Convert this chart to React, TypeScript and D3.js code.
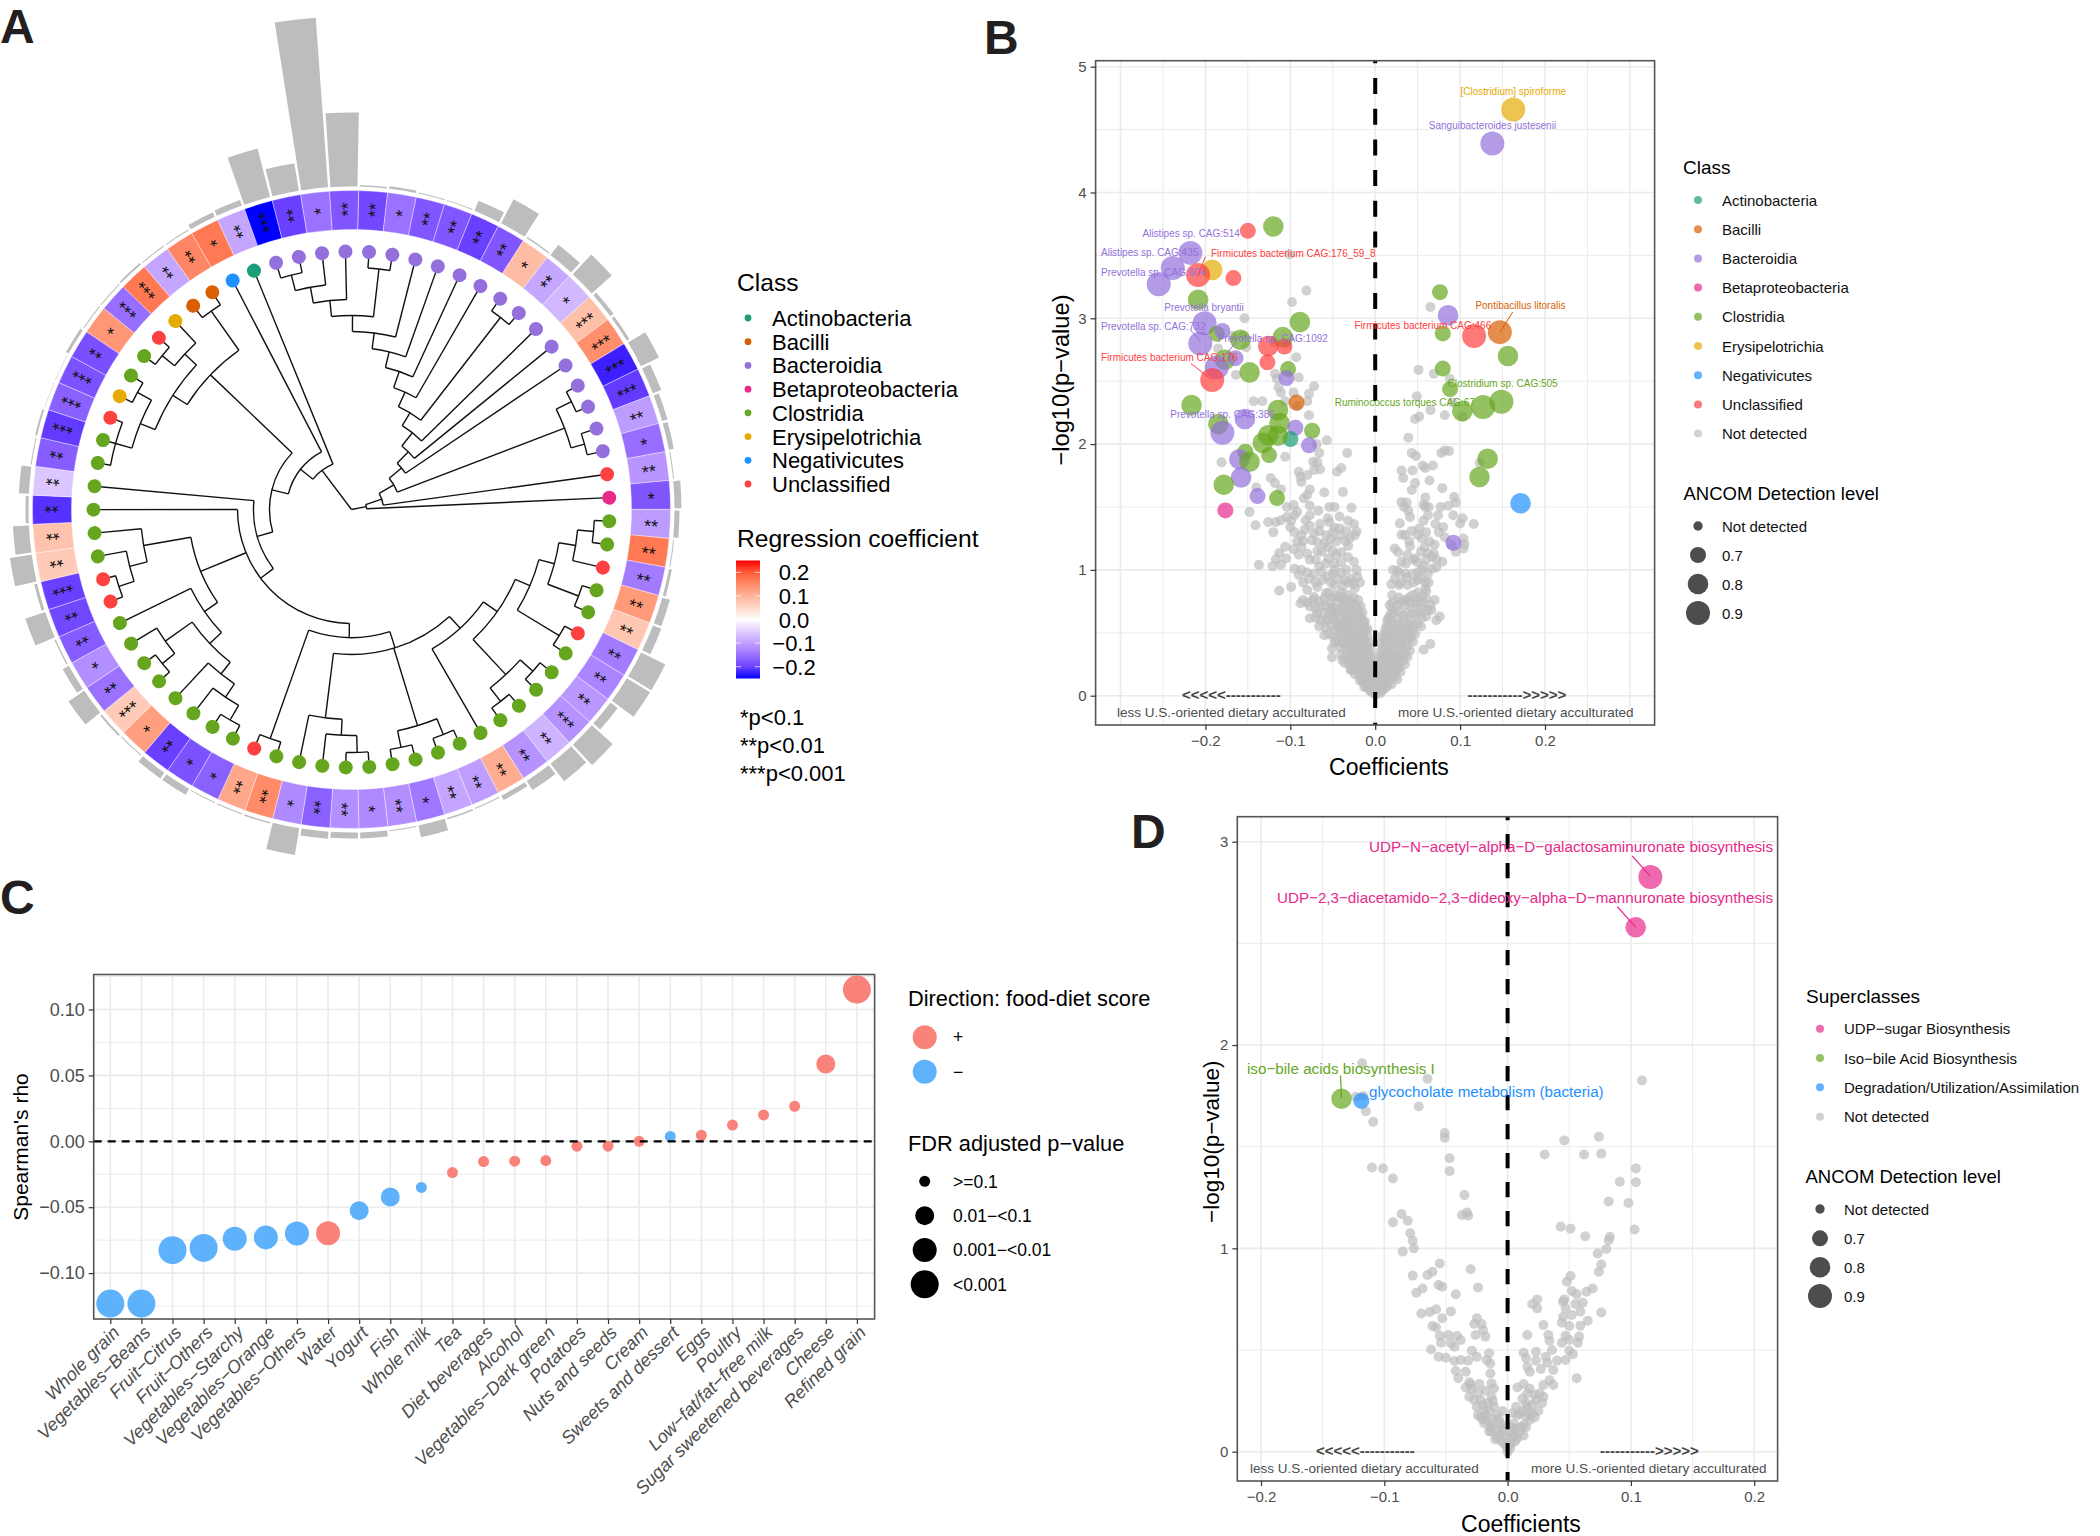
import { useEffect, useRef } from "react";
import * as d3 from "d3";

const FONT = "'Liberation Sans', Arial, sans-serif";

const classColors: Record<string, string> = {
  Actinobacteria: "#1b9e77",
  Bacilli: "#d95f02",
  Bacteroidia: "#9370db",
  Betaproteobacteria: "#e7298a",
  Clostridia: "#66a61e",
  Erysipelotrichia: "#e6ab02",
  Negativicutes: "#1e90ff",
  Unclassified: "#ff4040",
  "Not detected": "#bdbdbd",
};
const ACT = "Actinobacteria", BAC = "Bacilli", BCT = "Bacteroidia", BET = "Betaproteobacteria";
const CLO = "Clostridia", ERY = "Erysipelotrichia", NEG = "Negativicutes", UNC = "Unclassified";
const classNames = [ACT, BAC, BCT, BET, CLO, ERY, NEG, UNC];

// ---- panel A: one entry per species, clockwise from 12 o'clock
const tipClasses = [
  BCT, BCT, BCT, BCT, BCT, BCT, BCT, BCT, BCT, BCT, BCT, BCT, BCT, BCT, BCT, UNC, BET, CLO, CLO, UNC, CLO, CLO, UNC,
  CLO, CLO, CLO, CLO, CLO, CLO, CLO, CLO, CLO, CLO, CLO, CLO, CLO, CLO, CLO, UNC, CLO, CLO, CLO, CLO, CLO, CLO, CLO,
  CLO, UNC, UNC, CLO, CLO, CLO, CLO, CLO, CLO, UNC, ERY, CLO, CLO, UNC, ERY, BAC, BAC, NEG, ACT, BCT, BCT, BCT, BCT,
];
const coefficients = [
  -0.195, -0.15, -0.18, -0.18, -0.203, -0.18, 0.088, -0.093, -0.075, 0.083, 0.145, -0.233, -0.208, -0.105, -0.155,
  -0.113, -0.18, -0.105, 0.17, -0.14, 0.13, 0.075, -0.14, -0.13, -0.11, -0.115, -0.08, -0.115, 0.108, -0.103, -0.095,
  -0.145, -0.12, -0.125, -0.12, -0.17, -0.125, 0.15, 0.115, -0.17, -0.185, -0.203, 0.125, 0.07, -0.15, -0.12, -0.175,
  -0.195, -0.203, 0.07, 0.08, -0.218, -0.06, -0.173, -0.208, -0.17, -0.185, -0.188, 0.135, -0.155, 0.17, -0.095, 0.155,
  0.17, -0.095, -0.25, -0.203, -0.15, -0.18,
];
const starCounts = [
  2, 1, 2, 2, 2, 2, 1, 2, 1, 3, 3, 3, 3, 2, 1, 2, 1, 2, 2, 2, 2, 2, 2, 2, 2, 3, 2, 2, 2, 2, 2, 1, 2, 1, 2, 2, 1, 2, 2, 1,
  1, 2, 1, 3, 2, 1, 2, 2, 3, 2, 2, 2, 2, 2, 3, 3, 3, 2, 1, 3, 3, 2, 2, 1, 2, 3, 2, 1, 2,
];
const abundance = [
  1.5, 2.5, 1, 1, 11, 27, 1.5, 13, 27, 4, 3, 20, 9, 5.5, 5, 1, 7, 5, 1, 3, 8, 9, 27, 27, 9, 28, 22, 11, 5, 1, 1.5, 12, 1,
  6, 6, 7, 27, 1.5, 1, 1, 7, 7, 1, 2, 19, 7, 1.5, 21, 3, 22, 16, 3, 10, 1, 2, 0.5, 0.5, 3, 1, 1, 2, 1, 1, 5, 6, 50, 28,
  170, 74,
];

// nested clades: first number is the node depth, the rest are children; plain numbers are species ids
type Clade = number | Clade[];
const cladeRight: Clade = [
  178,
  [194, [210, [227, [243, 18, 19], 20], [243, 21, 22]], [243, 23, 24]],
  [226, [243, 25, 26], [243, 27, 28]],
];
const cladeLower: Clade = [
  128,
  [
    145,
    [161, cladeRight, 29],
    [226, [243, 30, 31], [243, 32, 33]],
    [210, [226, [243, 34, 35], 36], 37],
  ],
  [243, 38, 39],
];
const cladeLeft: Clade = [
  163,
  [179, [195, [210, [226, [243, 40, 41], 42], 43], [228, [244, 44, 45], 46]], 47],
  [211, [229, [245, 48, 49], 50], 51],
];
const cladeUpperLeft: Clade = [
  195,
  [212, [228, [245, 54, 55, 56], [244, 57, 58]], [228, [244, 59, 60], 61]],
  [243, 62, 63],
];
const cladeFirst: Clade = [49, [65, [82, [98, [114, cladeLower, cladeLeft, 52], 53], cladeUpperLeft], 64], 65];
const cladeTop: Clade = [
  98,
  [
    113,
    [129, [146, [162, [178, [194, [210, [226, [242, 66, 67], 68], 69], [242, 1, 2]], 3], 4], 5], 6],
    [243, 7, 8],
  ],
  9,
];
const cladeSecond: Clade = [
  15,
  [32, [49, [65, [81, cladeTop, 10], 11], [228, [245, 12, 13], [242, 14, 15]]], 16],
  17,
];
const phylogeny: Clade = [0, cladeFirst, cladeSecond];

// ---- panel B
const taxaB: [number, number, number, string][] = [
  [0.1626, 4.66, 0.9, ERY], [0.138, 4.39, 0.9, BCT], [-0.15, 3.695, 0.7, UNC], [-0.12, 3.73, 0.8, CLO],
  [-0.2177, 3.52, 0.9, BCT], [-0.2384, 3.4, 0.9, BCT], [-0.255, 3.27, 0.9, BCT], [-0.192, 3.385, 0.8, ERY],
  [-0.2086, 3.345, 0.9, UNC], [-0.167, 3.32, 0.7, UNC], [-0.2086, 3.147, 0.8, CLO], [-0.201, 2.96, 0.9, BCT],
  [-0.1866, 2.877, 0.7, CLO], [-0.18, 2.9, 0.7, BCT], [-0.1588, 2.83, 0.8, CLO], [-0.206, 2.8, 0.9, BCT],
  [-0.0887, 2.97, 0.8, CLO], [-0.1089, 2.85, 0.8, CLO], [-0.126, 2.78, 0.8, UNC], [-0.107, 2.776, 0.7, UNC],
  [-0.127, 2.65, 0.7, UNC], [-0.177, 2.67, 0.8, CLO], [-0.1645, 2.683, 0.7, BCT], [-0.1866, 2.61, 0.9, BCT],
  [-0.192, 2.51, 0.9, UNC], [-0.148, 2.57, 0.8, CLO], [-0.1026, 2.596, 0.7, CLO], [-0.1046, 2.525, 0.7, BCT],
  [-0.2163, 2.31, 0.8, CLO], [-0.0926, 2.33, 0.7, BAC], [-0.1146, 2.27, 0.8, CLO], [-0.1535, 2.2, 0.8, BCT],
  [-0.1847, 2.16, 0.8, CLO], [-0.18, 2.09, 0.9, BCT], [-0.1127, 2.167, 0.8, CLO], [-0.094, 2.13, 0.7, BCT],
  [-0.0743, 2.106, 0.7, CLO], [-0.0998, 2.04, 0.7, ACT], [-0.126, 2.07, 0.8, CLO], [-0.1146, 2.066, 0.8, CLO],
  [-0.1324, 2.01, 0.8, CLO], [-0.078, 1.99, 0.7, BCT], [-0.125, 1.913, 0.7, CLO], [-0.153, 1.94, 0.7, CLO],
  [-0.16, 1.88, 0.8, BCT], [-0.148, 1.86, 0.8, CLO], [-0.158, 1.735, 0.8, BCT], [-0.1784, 1.677, 0.8, CLO],
  [-0.1386, 1.587, 0.7, BCT], [-0.1156, 1.571, 0.7, CLO], [-0.1765, 1.473, 0.7, BET], [0.092, 1.216, 0.7, BCT],
  [0.1712, 1.53, 0.8, NEG], [0.1324, 1.884, 0.8, CLO], [0.1228, 1.738, 0.8, CLO], [0.0763, 3.208, 0.7, CLO],
  [0.0858, 3.023, 0.8, BCT], [0.0796, 2.88, 0.7, CLO], [0.1165, 2.86, 0.9, UNC], [0.1468, 2.89, 0.9, BAC],
  [0.1564, 2.7, 0.8, CLO], [0.0796, 2.6, 0.7, CLO], [0.0882, 2.437, 0.7, CLO], [0.1026, 2.262, 0.8, CLO],
  [0.1271, 2.294, 0.9, CLO], [0.1487, 2.336, 0.9, CLO],
];
const grayB: [number, number][] = [
  [-0.101, 3.51], [-0.081, 3.22], [-0.098, 3.13], [0.065, 3.09], [-0.154, 3], [-0.156, 2.86], [-0.168, 2.86],
  [-0.119, 2.81], [-0.104, 2.8], [-0.152, 2.77], [-0.185, 2.76], [-0.093, 2.69], [0.051, 2.59], [0.069, 2.56],
  [-0.118, 2.56], [-0.116, 2.52], [-0.164, 2.55], [-0.09, 2.53], [0.088, 2.52], [-0.072, 2.46], [-0.114, 2.45],
  [-0.111, 2.41], [-0.096, 2.41], [-0.078, 2.4], [0.049, 2.38], [-0.106, 2.34], [-0.143, 2.34], [-0.133, 2.34],
  [-0.08, 2.34], [-0.092, 2.3], [0.091, 2.33], [0.065, 2.27], [0.082, 2.23], [0.052, 2.22], [0.047, 2.2],
  [-0.078, 2.23], [0.103, 2.22], [0.039, 2.05], [-0.057, 2.03],
  // right arm
  [-0.033, 1.93], [0.043, 1.93], [0.048, 1.905], [0.078, 1.93], [0.082, 1.95], [0.087, 1.945], [0.123, 1.85],
  [0.056, 1.83], [0.068, 1.83], [0.059, 1.81], [0.031, 1.79], [0.044, 1.79], [0.033, 1.73], [0.064, 1.71],
  [0.047, 1.69], [0.079, 1.65], [0.043, 1.635], [0.059, 1.575], [0.093, 1.58], [0.031, 1.54], [0.037, 1.535],
  [0.095, 1.535], [0.057, 1.52], [0.059, 1.5], [0.063, 1.5], [0.077, 1.5], [0.086, 1.51], [0.034, 1.5], [0.039, 1.47],
  [0.074, 1.435], [0.092, 1.435], [0.041, 1.42], [0.062, 1.435], [0.103, 1.41], [0.057, 1.39], [0.029, 1.37],
  [0.071, 1.365], [0.1, 1.37], [0.116, 1.365], [0.08, 1.34], [0.052, 1.33], [0.043, 1.31], [0.031, 1.28], [0.035, 1.28],
  [0.05, 1.28], [0.06, 1.3], [0.082, 1.26], [0.055, 1.25], [0.064, 1.225], [0.104, 1.25], [0.105, 1.205], [0.104, 1.17],
  [0.095, 1.145], [0.023, 1.17], [0.041, 1.19], [0.027, 1.14], [0.054, 1.145], [0.062, 1.13], [0.069, 1.13],
  [0.047, 1.09], [0.067, 1.105], [0.031, 1.065], [0.045, 1.08], [0.072, 1.085], [0.079, 1.065], [0.057, 1.03],
  [0.067, 1.01], [0.021, 1], [0.026, 0.995], [0.044, 0.97], [0.062, 0.97], [0.038, 0.88], [0.05, 0.92], [0.059, 0.905],
  [0.019, 0.885], [0.028, 0.88], [0.059, 0.855], [0.076, 0.63], [0.072, 0.6], [0.065, 0.41], [0.057, 0.365],
  [0.023, 0.93], [0.03, 0.9], [0.037, 0.94], [0.045, 0.9], [0.054, 0.93], [0.063, 0.9], [0.028, 0.98], [0.036, 0.97],
  [0.05, 0.98], [0.055, 1], [0.072, 1.02], [0.036, 1.05], [0.05, 1.06], [0.06, 1.08], [0.038, 1.12], [0.058, 1.18],
  [0.04, 1.23], [0.07, 1.2], [0.09, 1.2], [0.075, 1.3],
  // left arm
  [-0.181, 1.855], [-0.106, 1.9], [-0.066, 1.93], [-0.069, 2], [-0.073, 1.86], [-0.068, 1.855], [-0.09, 1.78],
  [-0.072, 1.795], [-0.065, 1.8], [-0.04, 1.81], [-0.045, 1.78], [-0.08, 1.755], [-0.088, 1.74], [-0.087, 1.7],
  [-0.123, 1.73], [-0.14, 1.655], [-0.118, 1.69], [-0.111, 1.64], [-0.077, 1.64], [-0.06, 1.615], [-0.038, 1.62],
  [-0.08, 1.595], [-0.084, 1.57], [-0.104, 1.5], [-0.096, 1.515], [-0.077, 1.51], [-0.054, 1.5], [-0.048, 1.5],
  [-0.028, 1.495], [-0.148, 1.46], [-0.092, 1.46], [-0.067, 1.47], [-0.104, 1.42], [-0.095, 1.435], [-0.077, 1.435],
  [-0.056, 1.41], [-0.042, 1.425], [-0.126, 1.38], [-0.117, 1.38], [-0.111, 1.395], [-0.099, 1.39], [-0.082, 1.395],
  [-0.065, 1.365], [-0.054, 1.38], [-0.032, 1.39], [-0.141, 1.355], [-0.1, 1.34], [-0.077, 1.35], [-0.048, 1.335],
  [-0.034, 1.31], [-0.025, 1.365], [-0.12, 1.3], [-0.022, 1.305], [-0.087, 1.275], [-0.072, 1.29], [-0.058, 1.275],
  [-0.041, 1.275], [-0.024, 1.275], [-0.092, 1.225], [-0.075, 1.235], [-0.06, 1.21], [-0.046, 1.225], [-0.106, 1.185],
  [-0.096, 1.165], [-0.087, 1.185], [-0.056, 1.185], [-0.032, 1.19], [-0.113, 1.135], [-0.08, 1.13], [-0.063, 1.145],
  [-0.046, 1.12], [-0.117, 1.085], [-0.077, 1.08], [-0.111, 1.04], [-0.048, 1.05], [-0.025, 1.065], [-0.137, 1.04],
  [-0.121, 1.03], [-0.095, 1.01], [-0.087, 1], [-0.063, 0.985], [-0.048, 1], [-0.072, 0.97], [-0.056, 0.945],
  [-0.036, 0.92], [-0.021, 0.945], [-0.029, 0.93], [-0.099, 0.865], [-0.113, 0.835], [-0.08, 0.84], [-0.068, 0.865],
  [-0.048, 0.88], [-0.024, 0.855], [-0.072, 0.785], [-0.058, 0.815], [-0.039, 0.785], [-0.088, 0.735], [-0.077, 0.71],
  [-0.058, 0.71], [-0.036, 0.72], [-0.017, 0.71], [-0.068, 0.655], [-0.048, 0.67], [-0.077, 0.615], [-0.058, 0.6],
  [-0.029, 0.63], [-0.044, 0.575], [-0.034, 0.55], [-0.06, 0.48], [-0.015, 0.495], [-0.046, 0.44], [-0.032, 0.44],
  [-0.051, 0.375], [-0.051, 0.305], [-0.039, 0.285], [-0.022, 0.335], [-0.029, 0.205], [-0.015, 0.285],
  [-0.085, 0.9], [-0.078, 0.93], [-0.07, 0.9], [-0.062, 0.92], [-0.052, 0.9], [-0.044, 0.93], [-0.038, 0.87],
  [-0.032, 0.9], [-0.026, 0.89], [-0.018, 0.9], [-0.09, 0.96], [-0.08, 0.98], [-0.066, 1.03], [-0.058, 1.05],
  [-0.05, 0.97], [-0.04, 0.98], [-0.034, 1], [-0.022, 1], [-0.07, 1.08], [-0.055, 1.09], [-0.04, 1.06], [-0.032, 1.1],
  [-0.09, 1.12], [-0.068, 1.15], [-0.05, 1.15], [-0.04, 1.14], [-0.105, 1.09], [-0.085, 1.23], [-0.068, 1.22],
  [-0.052, 1.25], [-0.035, 1.23], [-0.03, 1.25], [-0.095, 1.3], [-0.083, 1.32], [-0.066, 1.31], [-0.05, 1.3],
  [-0.042, 1.33],
  // dense part of the V, left
  [-0.055, 0.82], [-0.05, 0.78], [-0.045, 0.75], [-0.04, 0.82], [-0.035, 0.77], [-0.03, 0.74], [-0.025, 0.78],
  [-0.052, 0.69], [-0.046, 0.66], [-0.04, 0.7], [-0.034, 0.66], [-0.028, 0.69], [-0.022, 0.72], [-0.048, 0.6],
  [-0.042, 0.62], [-0.036, 0.59], [-0.03, 0.6], [-0.024, 0.62], [-0.018, 0.64], [-0.044, 0.54], [-0.038, 0.52],
  [-0.032, 0.55], [-0.026, 0.53], [-0.02, 0.56], [-0.014, 0.58], [-0.04, 0.47], [-0.034, 0.46], [-0.028, 0.48],
  [-0.022, 0.47], [-0.016, 0.5], [-0.011, 0.52], [-0.036, 0.4], [-0.03, 0.41], [-0.024, 0.4], [-0.018, 0.42],
  [-0.012, 0.44], [-0.03, 0.34], [-0.025, 0.35], [-0.02, 0.33], [-0.015, 0.36], [-0.01, 0.37], [-0.028, 0.28],
  [-0.022, 0.28], [-0.017, 0.29], [-0.012, 0.3], [-0.007, 0.32], [-0.024, 0.24], [-0.019, 0.22], [-0.014, 0.24],
  [-0.009, 0.25], [-0.005, 0.27], [-0.02, 0.19], [-0.015, 0.17], [-0.011, 0.19], [-0.006, 0.21], [-0.016, 0.13],
  [-0.012, 0.14], [-0.008, 0.15], [-0.004, 0.17], [-0.012, 0.09], [-0.009, 0.1], [-0.005, 0.11], [-0.002, 0.13],
  [-0.008, 0.06], [-0.005, 0.07], [-0.002, 0.08], [-0.004, 0.03], [-0.002, 0.04], [0, 0.01],
  [-0.085, 0.76], [-0.08, 0.74], [-0.073, 0.76], [-0.066, 0.75], [-0.06, 0.77], [-0.054, 0.74], [-0.047, 0.8],
  [-0.043, 0.78], [-0.037, 0.74], [-0.032, 0.8], [-0.027, 0.74], [-0.02, 0.76], [-0.07, 0.69], [-0.065, 0.71],
  [-0.06, 0.66], [-0.054, 0.65], [-0.049, 0.7], [-0.043, 0.68], [-0.037, 0.65], [-0.031, 0.7], [-0.025, 0.66],
  [-0.02, 0.68], [-0.015, 0.66], [-0.07, 0.62], [-0.064, 0.6], [-0.056, 0.6], [-0.05, 0.63], [-0.045, 0.58],
  [-0.039, 0.56], [-0.033, 0.62], [-0.027, 0.57], [-0.021, 0.6], [-0.016, 0.61], [-0.012, 0.59], [-0.066, 0.55],
  [-0.058, 0.54], [-0.052, 0.56], [-0.047, 0.52], [-0.042, 0.49], [-0.035, 0.51], [-0.029, 0.52], [-0.023, 0.51],
  [-0.018, 0.53], [-0.013, 0.55], [-0.009, 0.53], [-0.055, 0.49], [-0.05, 0.47], [-0.044, 0.43], [-0.038, 0.43],
  [-0.032, 0.44], [-0.026, 0.45], [-0.02, 0.44], [-0.014, 0.47], [-0.009, 0.47], [-0.007, 0.42], [-0.048, 0.42],
  [-0.041, 0.38], [-0.034, 0.37], [-0.027, 0.38], [-0.022, 0.37], [-0.016, 0.39], [-0.011, 0.41], [-0.006, 0.38],
  [-0.04, 0.33], [-0.035, 0.31], [-0.03, 0.3], [-0.025, 0.31], [-0.019, 0.31], [-0.014, 0.33], [-0.009, 0.34],
  [-0.005, 0.33], [-0.036, 0.26], [-0.031, 0.25], [-0.026, 0.26], [-0.021, 0.25], [-0.016, 0.26], [-0.011, 0.28],
  [-0.006, 0.29], [-0.003, 0.26], [-0.028, 0.21], [-0.023, 0.21], [-0.017, 0.21], [-0.012, 0.22], [-0.008, 0.23],
  [-0.003, 0.22], [-0.024, 0.17], [-0.019, 0.16], [-0.013, 0.18], [-0.009, 0.19], [-0.004, 0.2], [-0.001, 0.18],
  [-0.018, 0.12], [-0.014, 0.11], [-0.01, 0.13], [-0.006, 0.15], [-0.002, 0.16], [-0.013, 0.07], [-0.01, 0.07],
  [-0.007, 0.09], [-0.004, 0.09], [-0.001, 0.1], [-0.006, 0.04], [-0.003, 0.06], [-0.001, 0.06],
  // dense part of the V, right
  [0.05, 0.82], [0.06, 0.83], [0.04, 0.78], [0.05, 0.76], [0.06, 0.77], [0.065, 0.72], [0.03, 0.75], [0.02, 0.74],
  [0.035, 0.72], [0.045, 0.7], [0.055, 0.7], [0.062, 0.68], [0.02, 0.69], [0.028, 0.67], [0.038, 0.66], [0.048, 0.64],
  [0.055, 0.62], [0.016, 0.62], [0.025, 0.61], [0.034, 0.6], [0.042, 0.59], [0.05, 0.57], [0.014, 0.56], [0.022, 0.55],
  [0.03, 0.54], [0.038, 0.53], [0.044, 0.51], [0.012, 0.5], [0.019, 0.49], [0.027, 0.48], [0.034, 0.47], [0.042, 0.46],
  [0.01, 0.45], [0.016, 0.43], [0.024, 0.42], [0.031, 0.41], [0.038, 0.39], [0.009, 0.38], [0.015, 0.37], [0.021, 0.36],
  [0.028, 0.35], [0.035, 0.33], [0.007, 0.32], [0.013, 0.31], [0.019, 0.3], [0.026, 0.29], [0.033, 0.28], [0.006, 0.27],
  [0.011, 0.25], [0.017, 0.24], [0.023, 0.23], [0.028, 0.22], [0.005, 0.21], [0.009, 0.19], [0.014, 0.18], [0.019, 0.17],
  [0.024, 0.16], [0.003, 0.15], [0.007, 0.13], [0.012, 0.13], [0.017, 0.12], [0.002, 0.1], [0.006, 0.08], [0.01, 0.08],
  [0.014, 0.08], [0.002, 0.05], [0.005, 0.04], [0.008, 0.04], [0.001, 0.02],
  [0.02, 0.8], [0.028, 0.78], [0.036, 0.76], [0.044, 0.8], [0.055, 0.79], [0.07, 0.76], [0.066, 0.68], [0.056, 0.74],
  [0.048, 0.73], [0.04, 0.74], [0.026, 0.72], [0.017, 0.72], [0.022, 0.66], [0.033, 0.64], [0.043, 0.65], [0.052, 0.66],
  [0.06, 0.63], [0.018, 0.65], [0.014, 0.6], [0.02, 0.58], [0.029, 0.57], [0.038, 0.57], [0.046, 0.56], [0.054, 0.55],
  [0.012, 0.53], [0.018, 0.52], [0.025, 0.52], [0.033, 0.51], [0.04, 0.5], [0.047, 0.49], [0.009, 0.48], [0.015, 0.47],
  [0.022, 0.46], [0.03, 0.45], [0.037, 0.44], [0.044, 0.43], [0.007, 0.42], [0.012, 0.41], [0.019, 0.4], [0.027, 0.39],
  [0.034, 0.38], [0.041, 0.36], [0.006, 0.35], [0.011, 0.34], [0.017, 0.33], [0.024, 0.32], [0.031, 0.32], [0.038, 0.31],
  [0.004, 0.29], [0.009, 0.28], [0.015, 0.27], [0.021, 0.27], [0.028, 0.26], [0.035, 0.25], [0.003, 0.24], [0.007, 0.22],
  [0.012, 0.21], [0.019, 0.21], [0.025, 0.2], [0.03, 0.19], [0.002, 0.18], [0.005, 0.17], [0.01, 0.16], [0.016, 0.15],
  [0.021, 0.14], [0.026, 0.13], [0.001, 0.13], [0.004, 0.11], [0.009, 0.11], [0.014, 0.11], [0.019, 0.09], [0.001, 0.07],
  [0.004, 0.06], [0.008, 0.07], [0.012, 0.06], [0.003, 0.03], [0.006, 0.02],
];
const labelsB: [string, string, number, number][] = [
  ["[Clostridium] spiroforme", ERY, 1460.5, 91],
  ["Sanguibacteroides justesenii", BCT, 1428.8, 125],
  ["Alistipes sp. CAG:514", BCT, 1142.5, 233],
  ["Alistipes sp. CAG:435", BCT, 1101, 252],
  ["Firmicutes bacterium CAG:176_59_8", UNC, 1211, 253],
  ["Prevotella sp. CAG:604", BCT, 1101, 272],
  ["Prevotella bryantii", BCT, 1164.3, 307],
  ["Prevotella sp. CAG:732", BCT, 1101, 326],
  ["Prevotella sp. CAG:1092", BCT, 1217.8, 338],
  ["Firmicutes bacterium CAG:176", UNC, 1101, 357],
  ["Firmicutes bacterium CAG:466", UNC, 1354.5, 325],
  ["Pontibacillus litoralis", BAC, 1475.4, 305],
  ["Clostridium sp. CAG:505", CLO, 1447.6, 383],
  ["Ruminococcus torques CAG:67", CLO, 1334.7, 402],
  ["Prevotella sp. CAG:386", BCT, 1170.3, 414],
];

// ---- panel C
const foods = [
  "Whole grain", "Vegetables−Beans", "Fruit−Citrus", "Fruit−Others", "Vegetables−Starchy", "Vegetables−Orange",
  "Vegetables−Others", "Water", "Yogurt", "Fish", "Whole milk", "Tea", "Diet beverages", "Alcohol",
  "Vegetables−Dark green", "Potatoes", "Nuts and seeds", "Cream", "Sweets and dessert", "Eggs", "Poultry",
  "Low−fat/fat−free milk", "Sugar sweetened beverages", "Cheese", "Refined grain",
];
const rhoValues = [
  -0.1231, -0.1231, -0.0826, -0.0809, -0.074, -0.0729, -0.07, -0.0697, -0.0526, -0.0423, -0.035, -0.0237, -0.0154,
  -0.0151, -0.0146, -0.0037, -0.0037, 0, 0.0037, 0.0046, 0.0123, 0.02, 0.0266, 0.0586, 0.1151,
];
const directions = ["−", "−", "−", "−", "−", "−", "−", "+", "−", "−", "−", "+", "+", "+", "+", "+", "+", "+", "−", "+", "+", "+", "+", "+", "+"];
const fdrGroups = [3, 3, 3, 3, 2, 2, 2, 2, 1, 1, 0, 0, 0, 0, 0, 0, 0, 0, 0, 0, 0, 0, 0, 1, 3];
const fdrLabels = [">=0.1", "0.01−<0.1", "0.001−<0.01", "<0.001"];

// ---- panel D
const pathwaysD: [number, number, number, string][] = [
  [0.1158, 2.826, 0.9, "#e7298a"],
  [0.1039, 2.579, 0.8, "#e7298a"],
  [-0.1347, 1.736, 0.8, "#66a61e"],
  [-0.1186, 1.725, 0.7, "#1e90ff"],
];
const grayD: [number, number][] = [
  [-0.118, 1.91], [-0.065, 1.834], [0.109, 1.826], [-0.123, 1.746], [-0.117, 1.749], [-0.115, 1.674], [-0.072, 1.698],
  [-0.109, 1.623], [-0.051, 1.567], [-0.051, 1.544], [0.074, 1.549], [0.046, 1.531], [0.03, 1.462], [0.062, 1.462],
  [0.076, 1.466], [-0.047, 1.443], [-0.11, 1.398], [-0.101, 1.393], [0.104, 1.393], [-0.047, 1.38], [-0.093, 1.344],
  [0.091, 1.328], [0.104, 1.325], [-0.035, 1.262], [0.082, 1.231], [0.098, 1.223], [-0.033, 1.177], [-0.037, 1.164],
  [-0.032, 1.16], [-0.086, 1.169], [-0.081, 1.136], [-0.093, 1.128], [-0.079, 1.074], [0.043, 1.107], [0.051, 1.097],
  [0.103, 1.093], [0.063, 1.06], [0.083, 1.057], [0.082, 1.04], [-0.077, 1.038], [-0.076, 1], [-0.085, 0.984],
  [0.08, 0.997], [0.073, 0.975], [-0.055, 0.926], [0.076, 0.921], [-0.03, 0.897], [-0.061, 0.885], [-0.065, 0.869],
  [0.074, 0.885], [-0.077, 0.866], [0.051, 0.864], [0.048, 0.836], [-0.056, 0.82], [-0.053, 0.811], [-0.024, 0.808],
  [-0.069, 0.803], [-0.074, 0.782], [0.052, 0.79], [0.056, 0.775], [0.069, 0.803], [0.064, 0.787], [-0.042, 0.774],
  [0.024, 0.749], [0.046, 0.749], [0.02, 0.726], [0.024, 0.705], [0.045, 0.738], [0.061, 0.733], [0.055, 0.726],
  [0.059, 0.689], [-0.046, 0.69], [-0.058, 0.7], [-0.063, 0.687], [-0.07, 0.68], [0.076, 0.685], [0.052, 0.672],
  [0.047, 0.705], [0.045, 0.664], [-0.053, 0.656], [-0.025, 0.656], [0.065, 0.644], [0.044, 0.634], [0.029, 0.623],
  [-0.027, 0.628], [-0.021, 0.628], [0.059, 0.62], [0.05, 0.618], [-0.061, 0.618], [-0.058, 0.611], [-0.02, 0.598],
  [0.033, 0.574], [0.016, 0.574], [0.047, 0.57], [0.058, 0.566], [-0.055, 0.57], [-0.048, 0.574], [-0.041, 0.569],
  [-0.026, 0.574], [-0.018, 0.566], [-0.038, 0.549], [0.034, 0.546], [0.044, 0.536], [0.05, 0.549], [-0.054, 0.536],
  [0.057, 0.536], [-0.046, 0.533], [-0.043, 0.516], [-0.062, 0.503], [0.05, 0.497], [-0.029, 0.497], [0.023, 0.492],
  [0.036, 0.5], [0.013, 0.487], [-0.015, 0.484], [-0.025, 0.467], [-0.056, 0.467], [-0.05, 0.462], [0.053, 0.48],
  [0.015, 0.459], [0.031, 0.467], [0.047, 0.451], [0.04, 0.448], [-0.043, 0.446], [-0.038, 0.451], [-0.032, 0.448],
  [-0.014, 0.434], [0.023, 0.448], [0.032, 0.438], [-0.017, 0.451], [0.016, 0.418], [0.027, 0.407], [0.037, 0.402],
  [0.018, 0.393], [-0.042, 0.397], [-0.034, 0.393], [-0.04, 0.361], [0.056, 0.361], [-0.014, 0.385], [0.034, 0.352],
  [0.037, 0.328], [0.029, 0.328], [0.013, 0.333], [0.008, 0.316], [-0.031, 0.341], [-0.023, 0.333], [-0.013, 0.336],
  [-0.034, 0.316], [-0.029, 0.307], [-0.011, 0.311], [0.016, 0.287], [0.026, 0.287], [-0.013, 0.27], [0.029, 0.27],
  [-0.031, 0.27], [-0.027, 0.254], [0.012, 0.262], [-0.022, 0.254], [0.023, 0.254], [0.007, 0.221], [-0.011, 0.221],
  [0.016, 0.221], [-0.024, 0.18], [-0.019, 0.205], [0.02, 0.189], [0.01, 0.189], [-0.009, 0.18], [-0.017, 0.156],
  [0.018, 0.156], [0.005, 0.139], [-0.013, 0.131], [0.013, 0.131], [-0.006, 0.139], [-0.013, 0.098], [0.01, 0.098],
  [-0.006, 0.082], [0.005, 0.082], [-0.009, 0.074], [0.008, 0.066], [-0.003, 0.041], [0.003, 0.041], [0, 0],
  [-0.001, 0.025], [0.002, 0.016], [-0.02, 0.16], [-0.015, 0.2], [0.015, 0.17], [0.003, 0.12], [-0.004, 0.1],
  [-0.025, 0.22], [-0.02, 0.23], [-0.016, 0.24], [-0.012, 0.25], [0.015, 0.24], [0.02, 0.23], [0.025, 0.2], [0.012, 0.2],
  [0.008, 0.18], [0.004, 0.19], [-0.004, 0.2], [-0.007, 0.16], [-0.012, 0.16], [-0.018, 0.18], [-0.022, 0.17],
  [-0.014, 0.12], [-0.01, 0.11], [-0.005, 0.12], [0.002, 0.1], [0.006, 0.11], [0.011, 0.12], [0.015, 0.12], [0.013, 0.08],
  [-0.01, 0.06], [-0.006, 0.055], [0.006, 0.05], [0.003, 0.07], [-0.002, 0.07], [-0.019, 0.14], [-0.015, 0.1],
  [0.017, 0.19], [0.022, 0.17], [0.028, 0.24], [-0.03, 0.33], [-0.018, 0.3], [0.018, 0.31], [0.022, 0.28], [-0.024, 0.29],
];

const superclassNames = ["UDP−sugar Biosynthesis", "Iso−bile Acid Biosynthesis", "Degradation/Utilization/Assimilation", "Not detected"];
const superclassColors = ["#e7298a", "#66a61e", "#1e90ff", "#bdbdbd"];
const ancomLevels = ["Not detected", "0.7", "0.8", "0.9"];
const ancomRadius = d3.scaleOrdinal<number, number>().domain([0, 0.7, 0.8, 0.9]).range([4.7, 8, 10.3, 12]);

type Sel = d3.Selection<any, any, any, any>;

function addText(g: Sel, s: string, x: number, y: number, size: number, fill = "#000", anchor = "start") {
  return g
    .append("text")
    .attr("x", x)
    .attr("y", y)
    .attr("font-size", size)
    .attr("fill", fill)
    .attr("text-anchor", anchor)
    .text(s);
}

function drawCircular(svg: Sel) {
  const g = svg.append("g").attr("transform", "translate(351.5,509.5)");
  const step = 5.217;
  const toRad = (deg: number) => (deg * Math.PI) / 180;
  const tipAngle = d3.scaleLinear().domain([1, 69]).range([3.9, 3.9 + 68 * step]);
  const angleOf = (id: number) => tipAngle(id) + (id < 18 ? 360 : 0);
  const heatColor = d3
    .scaleLinear<string>()
    .domain([-0.25, 0, 0.25])
    .range(["#0000ff", "#ffffff", "#ff0000"])
    .interpolate(d3.interpolateLab);
  const barRadius = d3.scaleLinear().domain([0, 170]).range([323, 493]);
  const tipR = 258;
  const ids = d3.range(1, 70);

  // outer bars
  const arc = d3.arc<any>();
  g.selectAll(".bar")
    .data(ids)
    .join("path")
    .attr("fill", "#bdbdbd")
    .attr("d", (id) =>
      arc({
        innerRadius: barRadius(0),
        outerRadius: barRadius(abundance[id - 1]),
        startAngle: toRad(tipAngle(id) - step * 0.46),
        endAngle: toRad(tipAngle(id) + step * 0.46),
      })
    );

  // heat ring
  g.selectAll(".cell")
    .data(ids)
    .join("path")
    .attr("fill", (id) => heatColor(coefficients[id - 1]))
    .attr("stroke", "#fff")
    .attr("stroke-opacity", 0.55)
    .attr("stroke-width", 0.7)
    .attr("d", (id) =>
      arc({
        innerRadius: 280,
        outerRadius: 319,
        startAngle: toRad(tipAngle(id) - step / 2),
        endAngle: toRad(tipAngle(id) + step / 2),
      })
    );

  // stars run along the radius of each cell
  g.selectAll(".star")
    .data(ids)
    .join("text")
    .attr("transform", (id) => `rotate(${tipAngle(id) - 90}) translate(300,0)`)
    .attr("text-anchor", "middle")
    .attr("dy", "0.52em")
    .attr("font-size", 18)
    .attr("fill", "#111")
    .text((id) => "*".repeat(starCounts[id - 1]));

  // tree
  const root: any = d3.hierarchy<Clade>(phylogeny, (d) => (Array.isArray(d) ? (d.slice(1) as Clade[]) : null));
  root.eachAfter((n: any) => {
    if (n.children) {
      n.angle = d3.mean(n.children, (c: any) => c.angle);
      n.r = (n.data as number[])[0];
    } else {
      n.angle = angleOf(n.data);
      n.r = tipR;
    }
  });
  const radial = d3
    .lineRadial<[number, number]>()
    .angle((d) => toRad(d[0]))
    .radius((d) => d[1]);
  const tree = g.append("g").attr("fill", "none").attr("stroke", "#111").attr("stroke-width", 1.4);
  root.descendants().forEach((n: any) => {
    if (n.parent) {
      tree.append("path").attr("d", radial([[n.angle, n.parent.r], [n.angle, n.r]]));
    }
    if (n.children && n.r > 0) {
      const [a0, a1] = d3.extent(n.children, (c: any) => c.angle as number) as [number, number];
      tree.append("path").attr("d", arc({ innerRadius: n.r, outerRadius: n.r, startAngle: toRad(a0), endAngle: toRad(a1) }));
    }
  });

  // tips
  g.selectAll(".tip")
    .data(ids)
    .join("circle")
    .attr("transform", (id) => `rotate(${tipAngle(id) - 90}) translate(${tipR},0)`)
    .attr("r", 7)
    .attr("fill", (id) => classColors[tipClasses[id - 1]]);

  // legends
  const leg = svg.append("g");
  addText(leg, "Class", 737, 291, 24.6);
  const classY = d3.scalePoint().domain(classNames).range([318, 484]);
  classNames.forEach((c) => {
    leg.append("circle").attr("cx", 748).attr("cy", classY(c)!).attr("r", 3.4).attr("fill", classColors[c]);
    addText(leg, c, 772, classY(c)! + 8, 22);
  });
  addText(leg, "Regression coefficient", 737, 546.5, 24.6);
  const grad = svg.append("defs").append("linearGradient").attr("id", "coefGradient").attr("x1", 0).attr("y1", 0).attr("x2", 0).attr("y2", 1);
  d3.range(0, 1.001, 0.1).forEach((t) => {
    grad.append("stop").attr("offset", t).attr("stop-color", heatColor(0.25 - t * 0.5));
  });
  const barY = d3.scaleLinear().domain([-0.25, 0.25]).range([678.5, 560.5]);
  leg.append("rect").attr("x", 736).attr("y", 560.5).attr("width", 24).attr("height", 118).attr("fill", "url(#coefGradient)");
  [0.2, 0.1, 0, -0.1, -0.2].forEach((v) => {
    leg.append("path").attr("d", `M736,${barY(v)}h5M755,${barY(v)}h5`).attr("stroke", "#fff").attr("stroke-opacity", 0.7);
    addText(leg, d3.format(".1f")(v), 794, barY(v) + 8, 22, "#000", "middle");
  });
  addText(leg, "*p<0.1", 740, 725, 22);
  addText(leg, "**p<0.01", 740, 753, 22);
  addText(leg, "***p<0.001", 740, 781, 22);
}

interface VolcanoConfig {
  left: number;
  right: number;
  top: number;
  bottom: number;
  xZero: number;
  xPerUnit: number;
  yZero: number;
  yPerUnit: number;
  xMajor: number[];
  xMinor: number[];
  yMajor: number[];
  yMinor: number[];
  dash: string;
  dashOffset: number;
}

function drawFrame(svg: Sel, c: VolcanoConfig) {
  const x = d3.scaleLinear().domain([0, 1]).range([c.xZero, c.xZero + c.xPerUnit]);
  const y = d3.scaleLinear().domain([0, 1]).range([c.yZero, c.yZero - c.yPerUnit]);
  const g = svg.append("g");
  const gridV = (vals: number[], w: number) =>
    g.append("g").selectAll("line").data(vals).join("line")
      .attr("x1", (d) => x(d)).attr("x2", (d) => x(d))
      .attr("y1", c.top).attr("y2", c.bottom)
      .attr("stroke", "#ebebeb").attr("stroke-width", w);
  const gridH = (vals: number[], w: number) =>
    g.append("g").selectAll("line").data(vals).join("line")
      .attr("y1", (d) => y(d)).attr("y2", (d) => y(d))
      .attr("x1", c.left).attr("x2", c.right)
      .attr("stroke", "#ebebeb").attr("stroke-width", w);
  gridV(c.xMinor, 1);
  gridH(c.yMinor, 1);
  gridV(c.xMajor, 1.6);
  gridH(c.yMajor, 1.6);
  return { g, x, y };
}

function styleAxis(a: Sel, size: number) {
  a.select(".domain").remove();
  a.selectAll("text").attr("fill", "#4d4d4d").attr("font-size", size).attr("font-family", FONT);
  a.selectAll("line").attr("stroke", "#333").attr("stroke-width", 1.2);
}

function drawAxes(g: Sel, c: VolcanoConfig, x: any, y: any, xTicks: number[], yTicks: number[]) {
  const ax = g.append("g").attr("transform", `translate(0,${c.bottom})`)
    .call(d3.axisBottom(x).tickValues(xTicks).tickSize(5).tickPadding(5).tickFormat(d3.format(".1f") as any));
  styleAxis(ax, 15);
  const ay = g.append("g").attr("transform", `translate(${c.left},0)`)
    .call(d3.axisLeft(y).tickValues(yTicks).tickSize(5).tickPadding(4).tickFormat(d3.format("d") as any));
  styleAxis(ay, 15);
}

function drawPoints(g: Sel, x: any, y: any, gray: [number, number][], taxa: [number, number, number, string][]) {
  g.append("g").selectAll("circle").data(gray).join("circle")
    .attr("cx", (d) => x(d[0])).attr("cy", (d) => y(d[1])).attr("r", 5)
    .attr("fill", "#bdbdbd").attr("fill-opacity", 0.7);
  g.append("g").selectAll("circle").data(taxa).join("circle")
    .attr("cx", (d) => x(d[0])).attr("cy", (d) => y(d[1])).attr("r", (d) => ancomRadius(d[2]))
    .attr("fill", (d) => classColors[d[3]] ?? d[3]).attr("fill-opacity", 0.7);
}

function drawRefLine(g: Sel, c: VolcanoConfig) {
  g.append("line").attr("x1", c.xZero).attr("x2", c.xZero).attr("y1", c.top).attr("y2", c.bottom)
    .attr("stroke", "#000").attr("stroke-width", 4).attr("stroke-dasharray", c.dash).attr("stroke-dashoffset", c.dashOffset);
}

function drawLegendItems(leg: Sel, names: string[], colors: string[], dotX: number, textX: number, ys: number[]) {
  names.forEach((n, i) => {
    leg.append("circle").attr("cx", dotX).attr("cy", ys[i]).attr("r", 4).attr("fill", colors[i]).attr("fill-opacity", 0.7);
    addText(leg, n, textX, ys[i] + 5.5, 15, "#111");
  });
}

function drawAncomLegend(leg: Sel, dotX: number, textX: number, titleY: number, ys: number[]) {
  addText(leg, "ANCOM Detection level", dotX - 14.5, titleY, 18.5);
  [0, 0.7, 0.8, 0.9].forEach((v, i) => {
    leg.append("circle").attr("cx", dotX).attr("cy", ys[i]).attr("r", ancomRadius(v)).attr("fill", "#4d4d4d");
    addText(leg, ancomLevels[i], textX, ys[i] + 5.5, 15, "#111");
  });
}

function drawPanelB(svg: Sel) {
  const c: VolcanoConfig = {
    left: 1095.6, right: 1654.6, top: 60.7, bottom: 725,
    xZero: 1375.2, xPerUnit: 849, yZero: 695.7, yPerUnit: 125.8,
    xMajor: [-0.3, -0.2, -0.1, 0, 0.1, 0.2, 0.3],
    xMinor: [-0.25, -0.15, -0.05, 0.05, 0.15, 0.25],
    yMajor: [0, 1, 2, 3, 4, 5],
    yMinor: [0.5, 1.5, 2.5, 3.5, 4.5],
    dash: "16,14.7",
    dashOffset: 13.4,
  };
  const { g, x, y } = drawFrame(svg, c);
  drawPoints(g, x, y, grayB, taxaB);
  drawRefLine(g, c);

  labelsB.forEach(([s, cls, lx, ly]) => {
    addText(g, s, lx, ly + 3.5, 10, classColors[cls]);
  });
  const links: [string, number, number, number, number][] = [
    [UNC, -0.2, 3.49, -0.2086, 3.34],
    [BCT, -0.218, 2.91, -0.206, 2.82],
    [BCT, -0.164, 2.81, -0.185, 2.64],
    [UNC, -0.217, 2.64, -0.192, 2.51],
    [BAC, 0.162, 3.05, 0.147, 2.89],
  ];
  links.forEach(([cls, x1, y1, x2, y2]) => {
    g.append("line").attr("x1", x(x1)).attr("y1", y(y1)).attr("x2", x(x2)).attr("y2", y(y2)).attr("stroke", classColors[cls]).attr("stroke-width", 1);
  });

  addText(g, "<<<<<-----------", 1182, 700, 15, "#444").attr("font-weight", "bold");
  addText(g, "----------->>>>>", 1467.5, 700, 15, "#444").attr("font-weight", "bold");
  addText(g, "less U.S.-oriented dietary acculturated", 1117, 717, 13.5, "#4d4d4d");
  addText(g, "more U.S.-oriented dietary acculturated", 1398, 717, 13.5, "#4d4d4d");

  g.append("rect").attr("x", c.left).attr("y", c.top).attr("width", c.right - c.left).attr("height", c.bottom - c.top)
    .attr("fill", "none").attr("stroke", "#555").attr("stroke-width", 1.6);
  drawAxes(g, c, x, y, [-0.2, -0.1, 0, 0.1, 0.2], [0, 1, 2, 3, 4, 5]);
  addText(g, "Coefficients", 1389, 775, 23, "#000", "middle");
  addText(g, "−log10(p−value)", 0, 0, 23.7, "#000", "middle").attr("transform", "translate(1069,380) rotate(-90)");

  const leg = svg.append("g");
  addText(leg, "Class", 1683, 174, 19);
  const names = [...classNames, "Not detected"];
  drawLegendItems(leg, names, names.map((n) => classColors[n]), 1698, 1722, names.map((_, i) => 200 + i * 29.2));
  drawAncomLegend(leg, 1698, 1722, 500, [526, 555, 584, 613]);
}

function drawPanelC(svg: Sel) {
  const left = 93.7, right = 874.6, top = 974.5, bottom = 1319;
  const x = d3.scalePoint().domain(foods).range([110.3, 856.9]);
  const y = d3.scaleLinear().domain([-0.1, 0.1]).range([1273.1, 1009.5]);
  const g = svg.append("g");
  g.append("g").selectAll("line").data([-0.125, -0.075, -0.025, 0.025, 0.075, 0.125]).join("line")
    .attr("x1", left).attr("x2", right).attr("y1", (d) => y(d)).attr("y2", (d) => y(d))
    .attr("stroke", "#ebebeb").attr("stroke-width", 1);
  g.append("g").selectAll("line").data([-0.1, -0.05, 0, 0.05, 0.1]).join("line")
    .attr("x1", left).attr("x2", right).attr("y1", (d) => y(d)).attr("y2", (d) => y(d))
    .attr("stroke", "#ebebeb").attr("stroke-width", 1.6);
  g.append("g").selectAll("line").data(foods).join("line")
    .attr("x1", (d) => x(d)!).attr("x2", (d) => x(d)!).attr("y1", top).attr("y2", bottom)
    .attr("stroke", "#ebebeb").attr("stroke-width", 1.6);

  const dirColor = d3.scaleOrdinal<string, string>().domain(["+", "−"]).range(["#f8766d", "#4daafc"]);
  const fdrRadius = d3.scaleOrdinal<number, number>().domain([0, 1, 2, 3]).range([5.5, 9.5, 12, 14]);
  g.append("g").selectAll("circle").data(foods).join("circle")
    .attr("cx", (d) => x(d)!)
    .attr("cy", (_, i) => y(rhoValues[i]))
    .attr("r", (_, i) => fdrRadius(fdrGroups[i]))
    .attr("fill", (_, i) => dirColor(directions[i]))
    .attr("fill-opacity", 0.9);
  g.append("line").attr("x1", left).attr("x2", right).attr("y1", y(0)).attr("y2", y(0))
    .attr("stroke", "#000").attr("stroke-width", 2.2).attr("stroke-dasharray", "8,6");
  g.append("rect").attr("x", left).attr("y", top).attr("width", right - left).attr("height", bottom - top)
    .attr("fill", "none").attr("stroke", "#555").attr("stroke-width", 1.6);

  const ay = g.append("g").attr("transform", `translate(${left},0)`)
    .call(d3.axisLeft(y).tickValues([-0.1, -0.05, 0, 0.05, 0.1]).tickSize(5).tickPadding(4).tickFormat(d3.format(".2f") as any));
  styleAxis(ay, 18);
  const ax = g.append("g").attr("transform", `translate(0,${bottom})`).call(d3.axisBottom(x).tickSize(5));
  styleAxis(ax, 18);
  ax.selectAll("text")
    .attr("transform", "translate(4,9) rotate(-45)")
    .attr("text-anchor", "end")
    .attr("font-style", "italic")
    .attr("x", 0)
    .attr("y", 8)
    .attr("dy", 0);
  addText(g, "Spearman's rho", 0, 0, 21, "#000", "middle").attr("transform", "translate(28,1147) rotate(-90)");

  const leg = svg.append("g");
  addText(leg, "Direction: food-diet score", 908, 1006, 21.8);
  [["+", 1037.3], ["−", 1071.7]].forEach(([d, cy]) => {
    leg.append("circle").attr("cx", 924.7).attr("cy", cy as number).attr("r", 12).attr("fill", dirColor(d as string)).attr("fill-opacity", 0.9);
    addText(leg, d as string, 953, (cy as number) + 6, 17.5);
  });
  addText(leg, "FDR adjusted p−value", 908, 1150.7, 21.8);
  fdrLabels.forEach((s, i) => {
    const cy = 1181.3 + i * 34.33;
    leg.append("circle").attr("cx", 924.7).attr("cy", cy).attr("r", fdrRadius(i)).attr("fill", "#000");
    addText(leg, s, 953, cy + 6.5, 17.5);
  });
}

function drawPanelD(svg: Sel) {
  const c: VolcanoConfig = {
    left: 1237.3, right: 1777.6, top: 816.7, bottom: 1481,
    xZero: 1507.6, xPerUnit: 1233, yZero: 1451.7, yPerUnit: 203.33,
    xMajor: [-0.2, -0.1, 0, 0.1, 0.2],
    xMinor: [-0.15, -0.05, 0.05, 0.15],
    yMajor: [0, 1, 2, 3],
    yMinor: [0.5, 1.5, 2.5],
    dash: "15.3,13.7",
    dashOffset: 11.7,
  };
  const { g, x, y } = drawFrame(svg, c);
  drawPoints(g, x, y, grayD, pathwaysD);
  drawRefLine(g, c);

  addText(g, "UDP−N−acetyl−alpha−D−galactosaminuronate biosynthesis", 1773, 852, 15.2, "#e7298a", "end");
  addText(g, "UDP−2,3−diacetamido−2,3−dideoxy−alpha−D−mannuronate biosynthesis", 1773, 903, 15.2, "#e7298a", "end");
  addText(g, "iso−bile acids biosynthesis I", 1247, 1074, 15.2, "#66a61e");
  addText(g, "glycocholate metabolism (bacteria)", 1369, 1097, 15.2, "#1e90ff");
  const links: [string, number, number, number, number][] = [
    ["#e7298a", 0.101, 2.93, 0.1158, 2.83],
    ["#e7298a", 0.089, 2.68, 0.1039, 2.58],
    ["#66a61e", -0.1355, 1.85, -0.1347, 1.74],
  ];
  links.forEach(([col, x1, y1, x2, y2]) => {
    g.append("line").attr("x1", x(x1)).attr("y1", y(y1)).attr("x2", x(x2)).attr("y2", y(y2)).attr("stroke", col).attr("stroke-width", 1.2);
  });

  addText(g, "<<<<<-----------", 1316, 1456, 15, "#444").attr("font-weight", "bold");
  addText(g, "----------->>>>>", 1600, 1456, 15, "#444").attr("font-weight", "bold");
  addText(g, "less U.S.-oriented dietary acculturated", 1250, 1473, 13.5, "#4d4d4d");
  addText(g, "more U.S.-oriented dietary acculturated", 1531, 1473, 13.5, "#4d4d4d");

  g.append("rect").attr("x", c.left).attr("y", c.top).attr("width", c.right - c.left).attr("height", c.bottom - c.top)
    .attr("fill", "none").attr("stroke", "#555").attr("stroke-width", 1.6);
  drawAxes(g, c, x, y, [-0.2, -0.1, 0, 0.1, 0.2], [0, 1, 2, 3]);
  addText(g, "Coefficients", 1521, 1531.7, 23, "#000", "middle");
  addText(g, "−log10(p−value)", 0, 0, 22.5, "#000", "middle").attr("transform", "translate(1219,1141.7) rotate(-90)");

  const leg = svg.append("g");
  addText(leg, "Superclasses", 1806, 1003, 19);
  drawLegendItems(leg, superclassNames, superclassColors, 1820, 1844, [1028.7, 1058, 1087.3, 1116.7]);
  drawAncomLegend(leg, 1820, 1844, 1183, [1209, 1238.3, 1267.3, 1296]);
}

export default function App() {
  const svgRef = useRef<SVGSVGElement>(null);

  useEffect(() => {
    if (!svgRef.current) return;
    const svg = d3.select(svgRef.current);
    svg.selectAll("*").remove();
    svg.attr("font-family", FONT);

    drawCircular(svg);
    drawPanelB(svg);
    drawPanelC(svg);
    drawPanelD(svg);

    // panel letters
    const letters: [string, number, number][] = [["A", 0, 43], ["B", 984, 54], ["C", 0, 914], ["D", 1131, 848]];
    letters.forEach(([s, x, y]) => {
      addText(svg, s, x, y, 48, "#231f20").attr("font-weight", "bold");
    });
  }, []);

  return (
    <svg
      ref={svgRef}
      width={2100}
      height={1536}
      style={{ position: "absolute", left: 0, top: 0, background: "#fff" }}
    />
  );
}
